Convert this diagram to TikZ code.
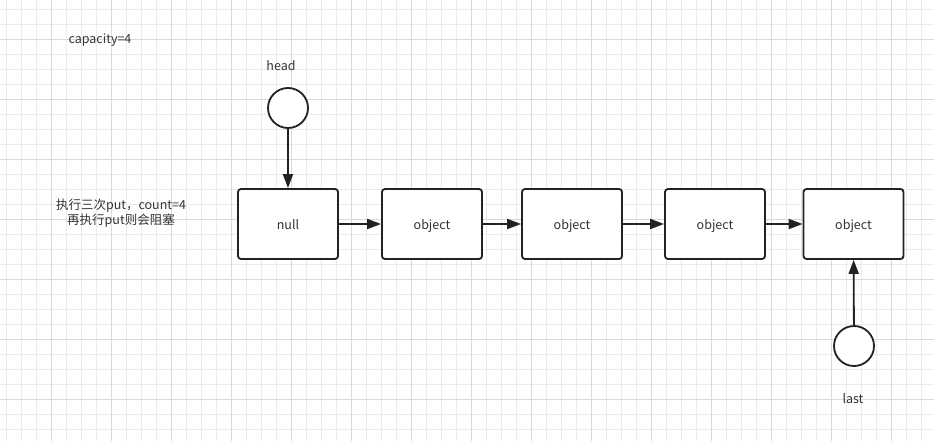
\documentclass[tikz,border=0pt]{standalone}
\usepackage{fontspec}
\setmainfont{Noto Sans CJK SC}
\usetikzlibrary{arrows.meta}
\definecolor{minorgrid}{HTML}{EBEBEB}
\definecolor{majorgrid}{HTML}{DADADA}
\definecolor{ink}{HTML}{222222}
\definecolor{txt}{HTML}{333333}
\tikzset{
  box/.style={draw=ink, line width=1.8pt, rounded corners=3pt, minimum width=100pt, minimum height=70pt, fill=white, font=\fontsize{12.5}{15}\selectfont, text=txt, text height=12pt, text depth=0.5pt},
  ptr/.style={draw=ink, line width=1.8pt, circle, minimum size=40pt, inner sep=0pt, fill=white},
  link/.style={draw=ink, line width=1.8pt, -{Triangle[length=14pt,width=10pt]}},
  lbl/.style={font=\fontsize{12.5}{15}\selectfont, text=txt, inner sep=0pt},
  onelbl/.style={lbl, text height=12pt, text depth=0.5pt},
}
\begin{document}
\begin{tikzpicture}[x=1pt,y=-1pt]
\useasboundingbox (0,0) rectangle (934,441);
\fill[white] (0,0) rectangle (934,441);
% grid
\foreach \gx in {6,21,...,934} \draw[minorgrid, line width=0.8pt] (\gx,0) -- (\gx,441);
\foreach \gy in {9,24,...,441} \draw[minorgrid, line width=0.8pt] (0,\gy) -- (934,\gy);
\foreach \gx in {51,111,...,934} \draw[majorgrid, line width=0.9pt] (\gx,0) -- (\gx,441);
\foreach \gy in {39,99,...,441} \draw[majorgrid, line width=0.9pt] (0,\gy) -- (934,\gy);

% texts
\node[onelbl] (cap) at (100,37.5) {capacity=4};
\node[onelbl] (headlbl) at (281,64.5) {head};
\node[onelbl] (lastlbl) at (853,397.5) {last};
\node[lbl, align=center] (note) at (121,213) {执行三次put，count=4\\再执行put则会阻塞};

% boxes
\node[box] (n1) at (288,224) {null};
\node[box] (n2) at (432,224) {object};
\node[box] (n3) at (572,224) {object};
\node[box] (n4) at (715,224) {object};
\node[box] (n5) at (853.5,224) {object};

% pointers
\node[ptr] (head) at (288,108) {};
\node[ptr] (last) at (854,346) {};

% links
\draw[link] (n1) -- (n2);
\draw[link] (n2) -- (n3);
\draw[link] (n3) -- (n4);
\draw[link] (n4) -- (n5);
\draw[link] (head) -- (n1);
\draw[link] (last) -- (n5);
\end{tikzpicture}
\end{document}
